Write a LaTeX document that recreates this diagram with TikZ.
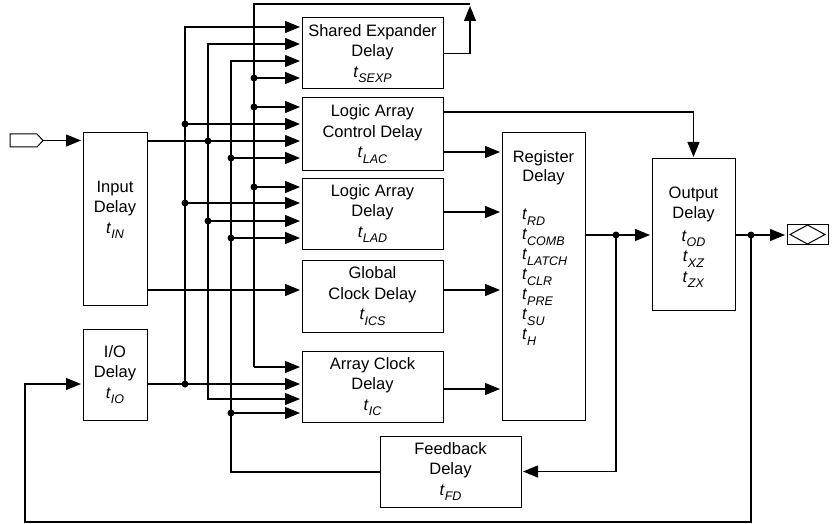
\documentclass[tikz,border=0pt]{standalone}
\usepackage{fontspec}
\setmainfont{Liberation Sans}
\usetikzlibrary{arrows.meta}
\newcommand{\tsb}[1]{\textit{t}\raisebox{-5.5pt}{\fontsize{12.5}{12.5}\selectfont\textit{#1}}}
\begin{document}
\begin{tikzpicture}[x=1pt,y=-1pt,
  box/.style={draw, line width=1pt, minimum width=141pt, minimum height=71pt,
    inner sep=0pt, outer sep=0pt, align=center, font=\fontsize{16.5}{20.5}\selectfont},
  txt/.style={inner sep=0pt, outer sep=0pt, align=center, font=\fontsize{16.5}{20.5}\selectfont},
  conn/.style={line width=1.2pt},
  arr/.style={conn, -{Triangle[length=15pt,width=12pt]}, shorten >=2pt}]
\useasboundingbox (0,0) rectangle (838,524);
\fill[white] (0,0) rectangle (838,524);
% boxes
\node[box, minimum width=64pt, minimum height=172pt] (inp) at (115,219) {};
\node[txt] (inptxt) at (115,210) {Input\\Delay\\\tsb{IN}};
\node[box, minimum width=64pt, minimum height=91pt] (io) at (115,374.5) {I/O\\Delay\\\tsb{IO}};
\node[box] (se) at (372.5,53.5) {Shared Expander\\Delay\\\tsb{SEXP}};
\node[box, minimum height=72pt] (lac) at (372.5,134) {Logic Array\\Control Delay\\\tsb{LAC}};
\node[box] (lad) at (372.5,213.5) {Logic Array\\Delay\\\tsb{LAD}};
\node[box, minimum height=72pt] (gc) at (372.5,296) {Global\\Clock Delay\\\tsb{ICS}};
\node[box] (ac) at (372.5,386.5) {Array Clock\\Delay\\\tsb{IC}};
\node[box] (fb) at (450.5,471.5) {Feedback\\Delay\\\tsb{FD}};
\node[box, minimum width=83pt, minimum height=287pt] (reg) at (543.5,276.5) {};
\node[txt, font=\fontsize{16.5}{19}\selectfont] (regtitle) at (543.5,168) {Register\\Delay};
\node[txt, align=left, anchor=west, font=\fontsize{16.5}{20}\selectfont] (reglist) at (522,277)
  {\tsb{RD}\\\tsb{COMB}\\\tsb{LATCH}\\\tsb{CLR}\\\tsb{PRE}\\\tsb{SU}\\\tsb{H}};
\node[box, minimum width=83pt, minimum height=151pt] (out) at (693.5,234.5) {};
\node[txt] (outtxt) at (693.5,237) {Output\\Delay\\[2pt]\tsb{OD}\\\tsb{XZ}\\\tsb{ZX}};
% pins
\draw[line width=1pt] (10,134) -- (37,134) -- (43,140.5) -- (37,147) -- (10,147) -- cycle;
\coordinate (pinin) at (43,140.5);
\node[draw, line width=1pt, minimum width=41pt, minimum height=20pt, inner sep=0pt, outer sep=0pt] (pinout) at (807.5,234.5) {};
\draw[line width=1pt] (790,234.5) -- (807.5,225) -- (825,234.5) -- (807.5,244) -- cycle;
% coordinates
\coordinate (A27) at (185,27);  \coordinate (A124) at (185,124);
\coordinate (A203) at (185,203); \coordinate (A384) at (185,384);
\coordinate (B44) at (208,44);  \coordinate (B141) at (208,141);
\coordinate (B221) at (208,221); \coordinate (B399) at (208,399);
\coordinate (C61) at (231,61);  \coordinate (C158) at (231,158);
\coordinate (C238) at (231,238); \coordinate (C413) at (231,413);
\coordinate (C472) at (231,472);
\coordinate (D78) at (254,78);  \coordinate (D107) at (254,107);
\coordinate (D187) at (254,187); \coordinate (D367) at (254,367);
\coordinate (E4) at (470,4);
\coordinate (Y112) at (694,112); \coordinate (Y152) at (0,152);
\coordinate (Y212) at (0,212); \coordinate (Y290) at (0,290);
\coordinate (Y389) at (0,389);
\coordinate (R235) at (616,235); \coordinate (O235) at (751,235);
\coordinate (L522) at (25,522); \coordinate (L384) at (25,384);
% connectors
\draw[arr] (pinin) -- (inp.west |- pinin);
\draw[arr] (inp.east |- B141) -- (lac.west |- B141);
\draw[arr] (inp.east |- Y290) -- (gc.west |- Y290);
\draw[arr] (io.east |- A384) -- (ac.west |- A384);
% bus A
\draw[arr] (A384) |- (se.west |- A27);
\draw[arr] (A124) -- (lac.west |- A124);
\draw[arr] (A203) -- (lad.west |- A203);
% bus B
\draw[arr] (B141) |- (se.west |- B44);
\draw[arr] (B141) |- (ac.west |- B399);
\draw[arr] (B221) -- (lad.west |- B221);
% bus C
\draw[arr] (fb.west |- C472) -| (C61) -- (se.west |- C61);
\draw[arr] (C158) -- (lac.west |- C158);
\draw[arr] (C238) -- (lad.west |- C238);
\draw[arr] (C413) -- (ac.west |- C413);
% bus D
\draw[arr] (se.east) -| (E4);
\draw[conn] (E4) -| (D367);
\draw[arr] (D367) -- (ac.west |- D367);
\draw[arr] (D78) -- (se.west |- D78);
\draw[arr] (D107) -- (lac.west |- D107);
\draw[arr] (D187) -- (lad.west |- D187);
% to register / output
\draw[arr] (lac.east |- Y112) -| (out.north);
\draw[arr] (lac.east |- Y152) -- (reg.west |- Y152);
\draw[arr] (lad.east |- Y212) -- (reg.west |- Y212);
\draw[arr] (gc.east |- Y290) -- (reg.west |- Y290);
\draw[arr] (ac.east |- Y389) -- (reg.west |- Y389);
\draw[arr] (reg.east |- R235) -- (out.west |- R235);
\draw[arr] (R235) |- (fb.east);
\draw[arr] (out.east |- O235) -- (pinout.west |- O235);
\draw[arr] (O235) |- (L522) |- (io.west |- L384);
% junction dots
\foreach \p in {A124,A203,A384,B141,B221,C158,C238,C413,D78,D107,D187,R235,O235}
  \fill (\p) circle[radius=3.5pt];
\end{tikzpicture}
\end{document}
